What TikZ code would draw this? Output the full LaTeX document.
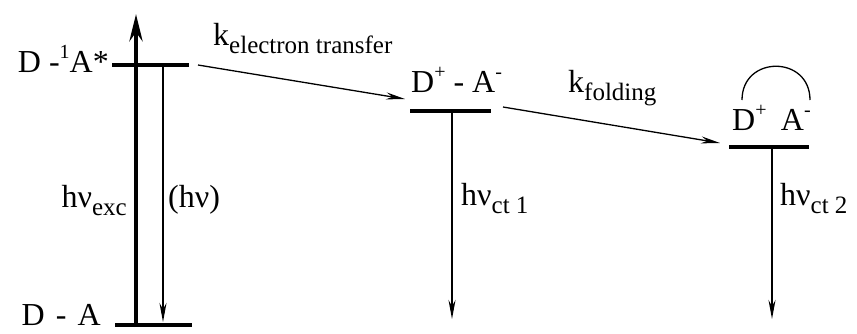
\documentclass[tikz,border=0pt]{standalone}
\usepackage{fontspec}
\setmainfont{Liberation Serif}
\usetikzlibrary{arrows.meta, positioning}

\newcommand{\lowtxt}[1]{\raisebox{-8pt}{\fontsize{25}{25}\selectfont #1}}
\newcommand{\hightxt}[1]{\raisebox{14pt}{\fontsize{20}{20}\selectfont #1}}

\begin{document}
\begin{tikzpicture}[x=1pt, y=-1pt, font=\rmfamily\fontsize{32}{32}\selectfont]
	\tikzset{level/.style={line width=4.5pt},
		decay/.style={-{Stealth[length=19pt, width=7pt]}, line width=1.3pt},
		pump/.style={-{Stealth[length=27pt, width=13pt]}, line width=4.5pt},
		tag/.style={inner sep=0pt}}
	\useasboundingbox (0,0) rectangle (857,333);

	% energy levels
	\coordinate (GSl) at (115,325);  \coordinate (GSr) at (192,325);
	\coordinate (EXl) at (112,65);   \coordinate (EXr) at (189,65);
	\coordinate (CT1l) at (410,111); \coordinate (CT1r) at (491,111);
	\coordinate (CT2l) at (729,147); \coordinate (CT2r) at (809,147);
	\draw[level] (GSl) -- (GSr);
	\draw[level] (EXl) -- (EXr);
	\draw[level] (CT1l) -- (CT1r);
	\draw[level] (CT2l) -- (CT2r);

	% arrow ends
	\coordinate (pumpA) at (136,327);  \coordinate (pumpB) at (136,14);
	\coordinate (fluoA) at (163,67);   \coordinate (fluoB) at (163,322);
	\coordinate (etA) at (198,65);     \coordinate (etB) at (405,99);
	\coordinate (foldA) at (503,107);  \coordinate (foldB) at (720,143);
	\coordinate (ct1A) at (452,111);   \coordinate (ct1B) at (452,319);
	\coordinate (ct2A) at (772,147);   \coordinate (ct2B) at (772,319);
	\coordinate (loopA) at (742,100);  \coordinate (loopB) at (810,100);

	\draw[pump] (pumpA) -- (pumpB);
	\draw[decay] (fluoA) -- (fluoB);
	\draw[decay] (etA) -- (etB);
	\draw[decay] (foldA) -- (foldB);
	\draw[decay] (ct1A) -- (ct1B);
	\draw[decay] (ct2A) -- (ct2B);
	\draw[line width=1.3pt] (loopA) .. controls (742,55) and (810,55) .. (loopB);

	% state names
	\node[tag, anchor=base east] (GS) at (101,325) {D\hspace{0.35em}-\hspace{0.35em}A};
	\node[tag, anchor=base east] (EX) at (109,72) {D -\hightxt{1}A*};
	\node[tag, anchor=base west] (CT1) at (411,92) {D\hightxt{+} - A\hightxt{-}};
	\node[tag, anchor=base west] (CT2) at (732,130) {D\hightxt{+}\hspace{0.45em}A\hightxt{-}};

	% rates and photons
	\node[tag, anchor=base west] (ket) at (213,45) {k\lowtxt{electron transfer}};
	\node[tag, anchor=base west] (kfold) at (568,92) {k\lowtxt{folding}};
	\node[tag, anchor=base east] (hexc) at (127,207) {hν\lowtxt{exc}};
	\node[tag, anchor=base west] (hfl) at (168,207) {(hν)};
	\node[tag, anchor=base west] (hct1) at (461,205) {hν\lowtxt{ct 1}};
	\node[tag, anchor=base west] (hct2) at (780,205) {hν\lowtxt{ct 2}};
\end{tikzpicture}
\end{document}
